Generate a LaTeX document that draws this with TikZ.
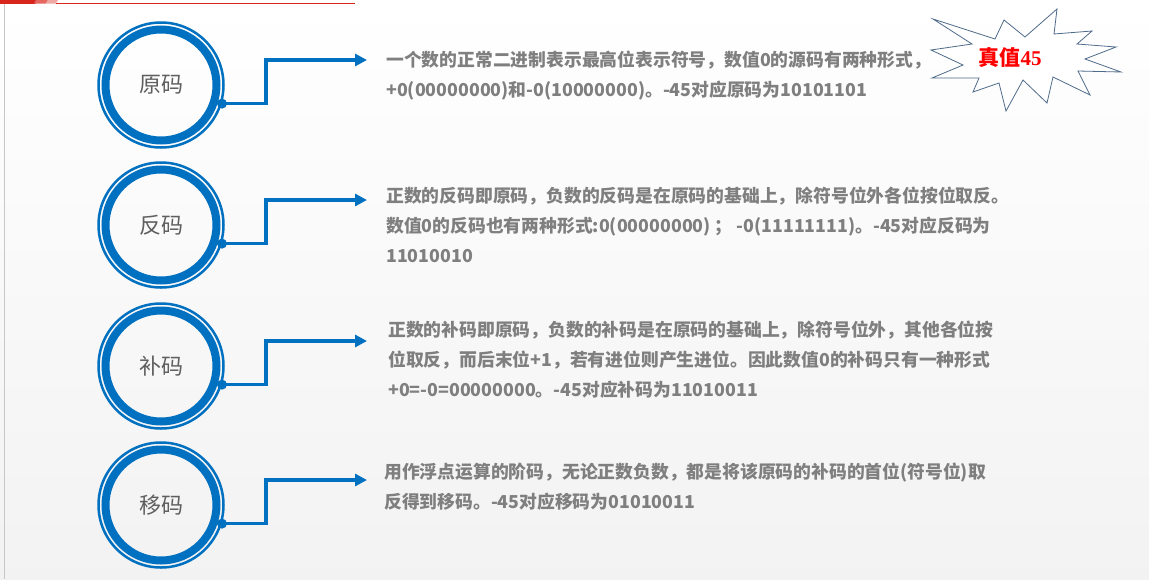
\documentclass[tikz,border=0pt]{standalone}
\usepackage{fontspec}
\setmainfont{Noto Sans CJK SC}
\newfontfamily\serifnum{Liberation Serif}
\usepackage{tikz}
\usetikzlibrary{arrows.meta,calc}
\definecolor{codeBlue}{HTML}{0070C0}
\definecolor{codeGray}{HTML}{7F7F7F}
\definecolor{codeInk}{HTML}{5F5F5F}
\definecolor{codeRed}{HTML}{D9261C}
\definecolor{starEdge}{HTML}{4F6B8A}
\tikzset{
  outring/.style={circle,draw=codeBlue,line width=2.5pt,minimum size=125pt,inner sep=0pt},
  corering/.style={circle,draw=codeBlue,line width=8pt,minimum size=111pt,inner sep=0pt,
    font=\fontsize{22}{22}\selectfont,text=codeInk},
  link/.style={-{Triangle[length=12pt,width=12pt]},line width=3.5pt,draw=codeBlue},
  note/.style={anchor=north west,inner sep=0pt,align=left,text=codeGray,
    font=\fontsize{17.8}{30}\selectfont\bfseries},
  burst/.style={draw=starEdge,fill=white,line width=0.8pt,line join=miter}
}

\begin{document}
\begin{tikzpicture}[x=1pt,y=-1pt,>=Latex]
  \useasboundingbox (0,0) rectangle (1149,579);
  \shade[top color=white,bottom color=black!5] (0,0) rectangle (1149,579);
  % top rule and left edge
  \fill[codeRed] (0,0) rectangle (36,3.5);
  \fill[codeRed!70] (36,0) -- (48,0) -- (46,3.5) -- (34,3.5) -- cycle;
  \fill[codeRed!40] (48,0) -- (58,0) -- (56,3.5) -- (46,3.5) -- cycle;
  \draw[codeRed,line width=1pt] (56,3.2) -- (355,3.2);
  \draw[black!22,line width=1pt] (4,4) -- (4,579);
  % rings and connectors
  \foreach \i/\y/\name in {1/85/原码,2/225/反码,3/366/补码,4/505/移码}{
    \node[outring] (ring\i) at (161,\y) {};
    \node[corering] (core\i) at (ring\i) {\name};
    \fill[codeBlue] (ring\i.-17) circle (5pt);
    \coordinate (tip\i) at (367,\y-25);
    \draw[link] (ring\i.-17) -- ++(44,0) |- (tip\i);
  }
  % notes
  \node[note] (yuan) at (386,51)
       {一个数的正常二进制表示最高位表示符号，数值0的源码有两种形式，\\
        +0(00000000)和-0(10000000)。-45对应原码为10101101};
  \node[note] (fan) at (386,187)
       {正数的反码即原码，负数的反码是在原码的基础上，除符号位外各位按位取反。\\
        数值0的反码也有两种形式:0(00000000) ； -0(11111111)。-45对应反码为\\
        11010010};
  \node[note] (bu) at (388,321)
       {正数的补码即原码，负数的补码是在原码的基础上，除符号位外，其他各位按\\
        位取反，而后末位+1，若有进位则产生进位。因此数值0的补码只有一种形式\\
        +0=-0=00000000。-45对应补码为11010011};
  \node[note] (yi) at (384,463)
       {用作浮点运算的阶码，无论正数负数，都是将该原码的补码的首位(符号位)取\\
        反得到移码。-45对应移码为01010011};
  % true value burst
  \draw[burst] plot coordinates {(933,19) (995,39) (1004,20) (1025,37) (1057,9)
    (1054,34) (1092,31) (1077,44) (1116,47) (1085,59) (1121,72) (1078,71) (1090,95)
    (1053,77) (1047,103) (1023,80) (1006,111) (999,83) (973,92) (979,78) (932,78)
    (963,65) (931,50) (972,44)} -- cycle;
  \node[text=red,font=\fontsize{21}{21}\selectfont\bfseries] (zhenzhi) at (1010,58)
       {真值{\serifnum 45}};
\end{tikzpicture}
\end{document}
